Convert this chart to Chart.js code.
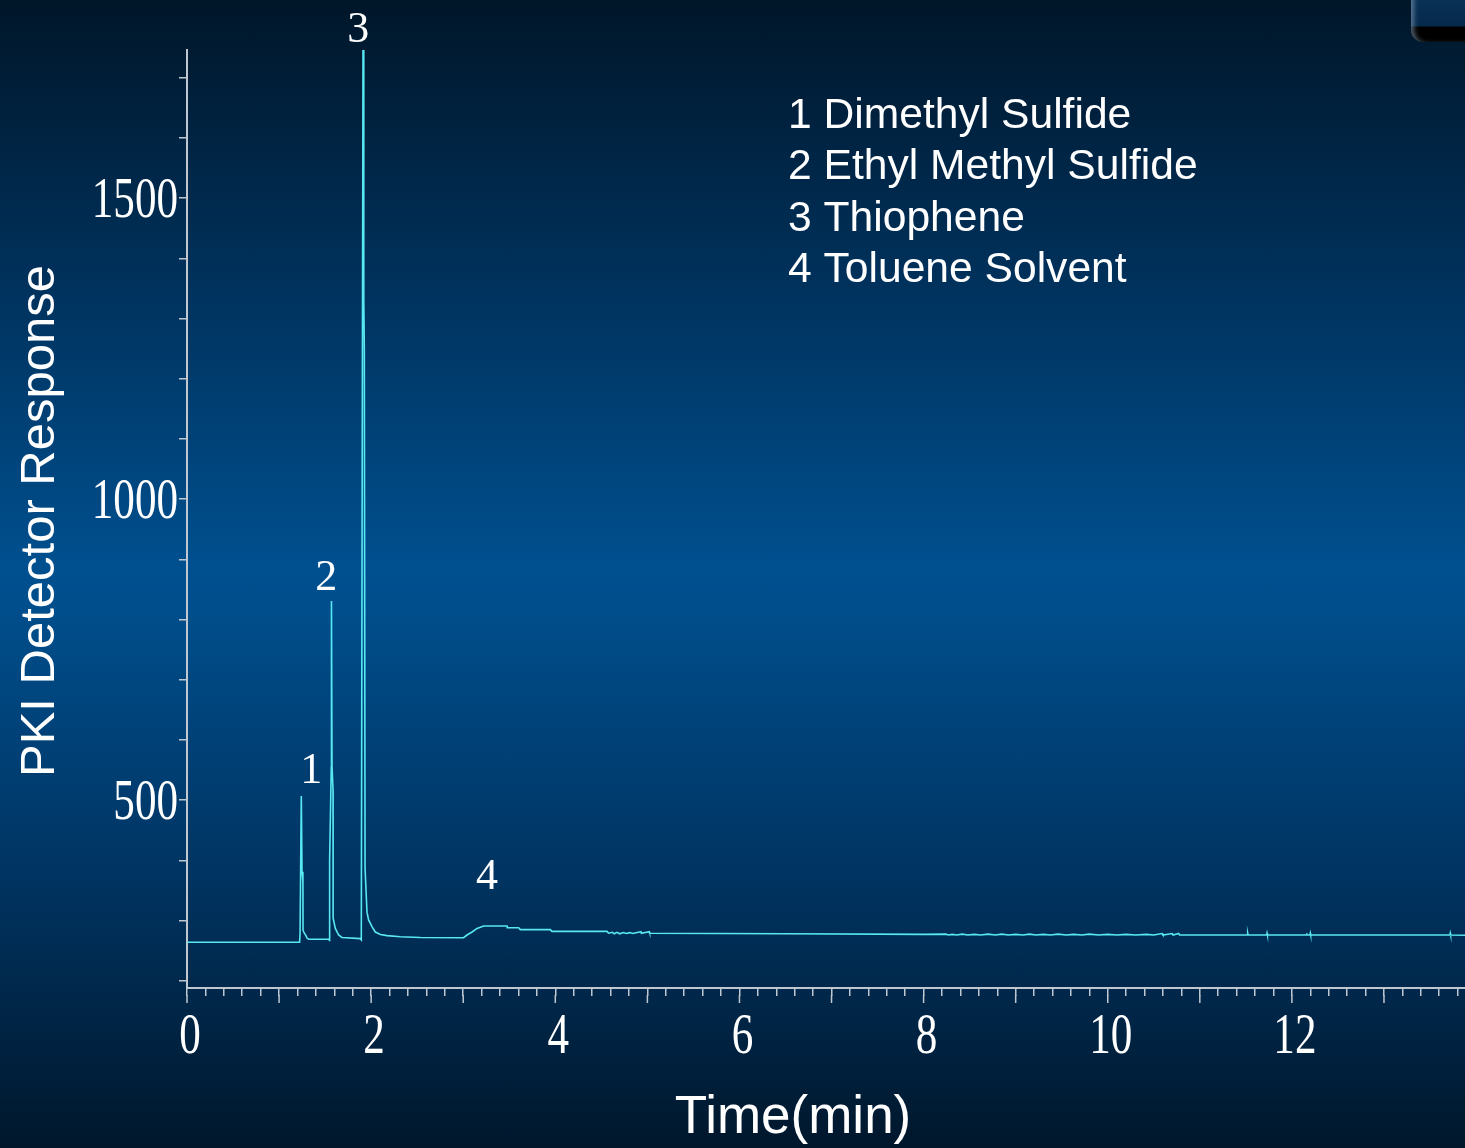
<!DOCTYPE html>
<html>
<head>
<meta charset="utf-8">
<script src="https://cdn.jsdelivr.net/npm/chart.js@4.4.1/dist/chart.umd.min.js"></script>
<style>
html, body { margin: 0; padding: 0; overflow: hidden; }
#wrap {
  position: relative; width: 1465px; height: 1148px;
  background: linear-gradient(to bottom, #001629 0%, #00325d 25%, #004f8e 49%, #004e8c 53%, #003462 76%, #00172c 100%);
}
#plots { position: absolute; left: 0; top: 0; }
#corner {
  position: absolute; left: 1411px; top: -20px; width: 70px; height: 62px;
  border-radius: 12px;
  background: linear-gradient(to bottom, #0b3760 0%, #06294b 74%, #000 76%, #000 100%);
  box-shadow: inset 5px 0 5px -2px rgba(150, 175, 200, 0.55);
}
</style>
</head>
<body>
<div id="wrap">
  <canvas id="plots" width="1465" height="1148"></canvas>
  <div id="corner"></div>
</div>
<script>
// retention time (min) and detector response
var times = [
  0, 1.223, 1.228, 1.2415, 1.249, 1.259, 1.260, 1.274, 1.292, 1.303, 1.321, 1.538,
  1.548, 1.549, 1.567, 1.569, 1.575, 1.586, 1.587, 1.611, 1.647, 1.683, 1.882,
  1.893, 1.9116, 1.920, 1.926, 1.934, 1.955, 1.972, 2.009, 2.045, 2.100, 2.172, 2.317, 2.534, 2.987,
  3.004, 3.041, 3.096, 3.150, 3.222, 3.476, 3.478, 3.602, 3.620, 3.946, 3.964, 4.562, 4.579,
  4.62, 4.64, 4.67, 4.70, 4.74, 4.77, 4.81, 4.84, 4.93, 4.935, 5.02, 5.025,
  6.5, 8.0,
  8.24, 8.27, 8.31, 8.36, 8.42, 8.48, 8.55, 8.62, 8.70, 8.78, 8.85, 8.92, 9.00, 9.08,
  9.15, 9.22, 9.30, 9.38, 9.46, 9.55, 9.63, 9.72, 9.80, 9.90, 10.00, 10.10, 10.20, 10.30,
  10.42, 10.50, 10.59, 10.60, 10.70, 10.71, 10.77, 10.78,
  11.516, 11.52, 11.524, 11.726, 11.73, 11.734, 12.156, 12.16, 12.164, 12.196, 12.20, 12.204,
  13.716, 13.72, 13.724, 13.88
];
var response = [
  264, 264, 279, 507, 381, 364, 284, 279, 275, 271, 269, 269,
  267, 400, 555, 831, 556, 517, 304, 287, 276, 272, 270,
  268, 1746, 1330, 1247, 386, 314, 301, 290, 281, 277, 275, 273, 272, 271.5,
  271.5, 276, 281, 287, 291, 291, 288, 288, 285, 285, 282, 282, 279,
  280.5, 278, 280.5, 278, 280, 278.5, 280, 278.5, 281.5, 279, 281.5, 279,
  278, 277,
  277.5, 276, 277, 276, 277.5, 276, 277, 276, 277.5, 276, 277.5, 276, 277, 276,
  277.5, 276, 277, 276, 277.5, 276, 277, 276, 277.5, 276, 277, 276, 277, 276,
  277, 276, 278.5, 276, 278.5, 276, 278.5, 276,
  276, 279, 276, 276, 279, 276, 276, 279, 276, 276, 279, 276,
  276, 279, 276, 275.5
];

// peak numbers and where each number sits (time, response)
var peakNames = ["1", "2", "3", "4"];
var peakNameTimes = [1.350, 1.511, 1.861, 3.258];
var peakNameLevels = [528, 849, 1760, 353];

var compounds = ["1 Dimethyl Sulfide", "2 Ethyl Methyl Sulfide", "3 Thiophene", "4 Toluene Solvent"];

var xTickLabels = [0, 2, 4, 6, 8, 10, 12];
var yTickLabels = [500, 1000, 1500];

var axisGrey = '#bfc8d1';

// text, long minute marks and condensed serif tick numbers
var overlay = {
  id: 'overlay',
  afterDraw: function (chart) {
    var ctx = chart.ctx, xs = chart.scales.x, ys = chart.scales.y, area = chart.chartArea;
    ctx.save();

    // whole minutes get longer marks
    ctx.strokeStyle = axisGrey;
    ctx.lineWidth = 1.5;
    for (var m = 0; m <= 13; m++) {
      var mx = xs.getPixelForValue(m);
      ctx.beginPath();
      ctx.moveTo(mx, area.bottom + 7);
      ctx.lineTo(mx, area.bottom + 15);
      ctx.stroke();
    }

    ctx.fillStyle = '#ffffff';
    ctx.font = '56px "Liberation Serif", "Times New Roman", serif';
    ctx.textBaseline = 'alphabetic';

    ctx.textAlign = 'right';
    yTickLabels.forEach(function (v) {
      ctx.save();
      ctx.translate(area.left - 9, ys.getPixelForValue(v) + 19);
      ctx.scale(0.77, 1);
      ctx.fillText(String(v), 0, 0);
      ctx.restore();
    });

    ctx.textAlign = 'center';
    xTickLabels.forEach(function (v) {
      ctx.save();
      ctx.translate(xs.getPixelForValue(v) + 3, 1053);
      ctx.scale(0.77, 1);
      ctx.fillText(String(v), 0, 0);
      ctx.restore();
    });

    // peak numbers
    ctx.font = '44px "Liberation Serif", "Times New Roman", serif';
    peakNames.forEach(function (n, i) {
      ctx.fillText(n, xs.getPixelForValue(peakNameTimes[i]), ys.getPixelForValue(peakNameLevels[i]));
    });

    // compound list
    ctx.textAlign = 'left';
    ctx.font = '42.6px "Liberation Sans", Arial, sans-serif';
    compounds.forEach(function (c, i) {
      ctx.fillText(c, 788, 128 + i * 51.3);
    });

    // axis titles
    ctx.textAlign = 'center';
    ctx.font = '53px "Liberation Sans", Arial, sans-serif';
    ctx.fillText('Time(min)', 793, 1133);

    ctx.save();
    ctx.translate(54, 521);
    ctx.rotate(-Math.PI / 2);
    ctx.font = '49px "Liberation Sans", Arial, sans-serif';
    ctx.fillText('PKI Detector Response', 0, 0);
    ctx.restore();

    ctx.restore();
  }
};

var plots = document.getElementById("plots");
new Chart(plots, {
  type: 'line',
  data: {
    datasets: [{
      data: times.map(function (t, i) { return { x: t, y: response[i] }; }),
      borderColor: '#58e8f2',
      borderWidth: 1.6,
      pointRadius: 0,
      tension: 0,
      fill: false
    }]
  },
  options: {
    responsive: false,
    animation: false,
    layout: { padding: { top: 50, right: 0, bottom: 0, left: 0 } },
    plugins: { legend: { display: false }, tooltip: { enabled: false } },
    scales: {
      x: {
        type: 'linear', min: 0, max: 13.88,
        ticks: { display: false, stepSize: 0.2, includeBounds: false },
        grid: { drawOnChartArea: false, tickLength: 8, color: axisGrey, lineWidth: 1.5 },
        border: { color: axisGrey, width: 2 },
        afterFit: function (s) { s.height = 160; }
      },
      y: {
        min: 188, max: 1746,
        ticks: { display: false, stepSize: 100, includeBounds: false },
        grid: { drawOnChartArea: false, tickLength: 8, color: axisGrey, lineWidth: 1.5 },
        border: { color: axisGrey, width: 2 },
        afterFit: function (s) { s.width = 187; }
      }
    }
  },
  plugins: [overlay]
});
</script>
</body>
</html>
